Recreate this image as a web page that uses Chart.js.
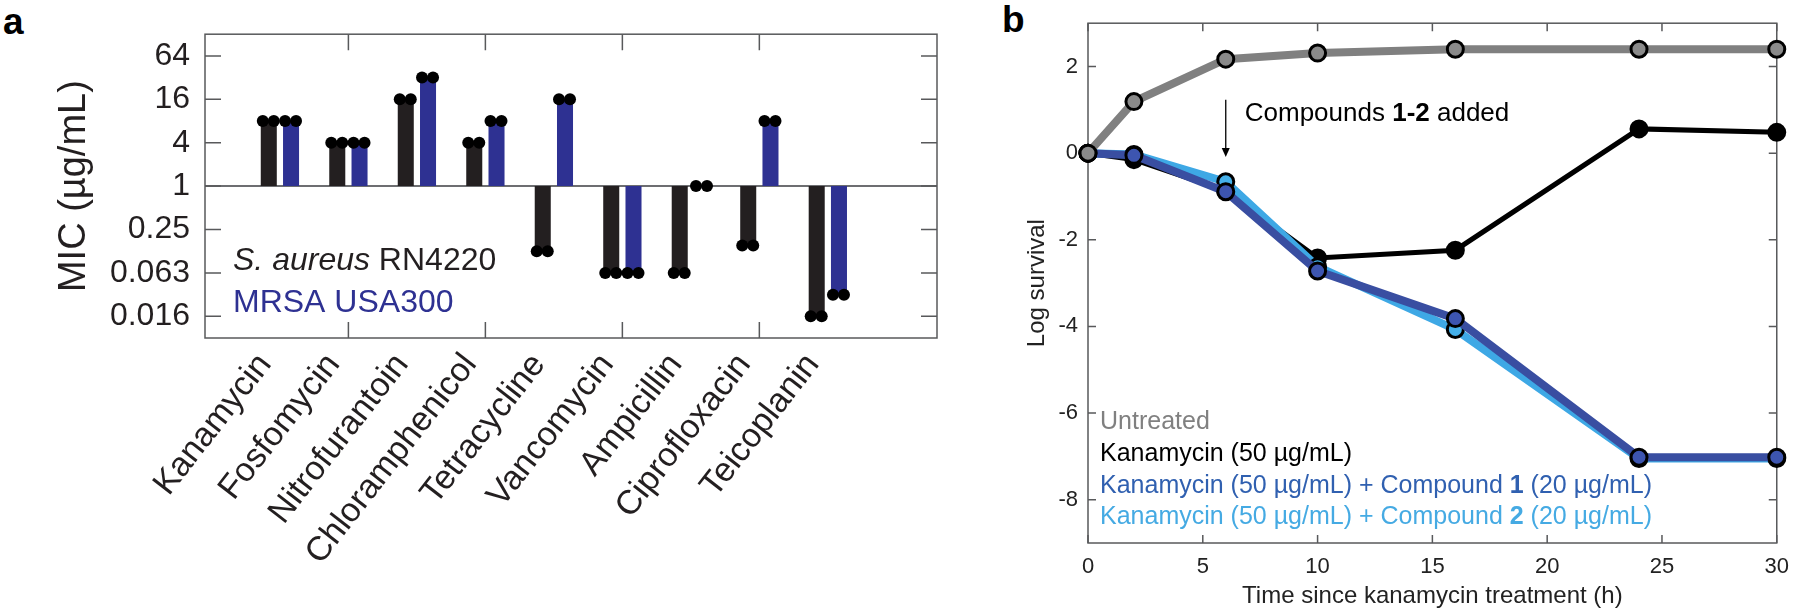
<!DOCTYPE html>
<html lang="en">
<head>
<meta charset="UTF-8">
<title>MIC and time-kill</title>
<script src="https://cdn.jsdelivr.net/npm/chart.js"></script>
<style>
  body {
    margin: 0;
    background: #fff;
    width: 1800px;
    height: 615px;
    position: relative;
    overflow: hidden;
    font-family: 'Liberation Sans', Arial, sans-serif;
  }
  canvas { position: absolute; top: 0; }
  #micChart { left: 0; }
  #killChart { left: 960px; }
  .letter {
    position: absolute;
    font-weight: bold;
    font-size: 37px;
    line-height: 37px;
    color: #000;
  }
</style>
</head>
<body>
  <div class="letter" style="left:3px; top:3px;">a</div>
  <div class="letter" style="left:1002px; top:1px;">b</div>
  <canvas id="micChart" width="960" height="615"></canvas>
  <canvas id="killChart" width="840" height="615"></canvas>

<script>
  // panel a: MIC per antibiotic (µg/mL)
  const drugs = ['Kanamycin', 'Fosfomycin', 'Nitrofurantoin', 'Chloramphenicol', 'Tetracycline',
                 'Vancomycin', 'Ampicillin', 'Ciprofloxacin', 'Teicoplanin'];
  const micRN4220 = [8, 4, 16, 4, 0.125, 0.0625, 0.0625, 0.15, 0.0156];
  const micUSA300 = [8, 4, 32, 8, 16, 0.0625, 1, 8, 0.031];
  const micTicks = [1 / 64, 1 / 16, 1 / 4, 1, 4, 16, 64];
  const micTickLabels = ['0.016', '0.063', '0.25', '1', '4', '16', '64'];
  const drugTickMarks = [2, 4, 6, 8];

  // panel b: log survival over time
  const hours = [0, 2, 6, 10, 16, 24, 30];
  const untreated = [0, 1.19, 2.17, 2.31, 2.40, 2.40, 2.40];
  const kanOnly = [0, -0.15, -0.87, -2.42, -2.24, 0.56, 0.48];
  const kanCpd1 = [0, -0.05, -0.89, -2.72, -3.82, -7.02, -7.02];
  const kanCpd2 = [0, -0.03, -0.66, -2.62, -4.07, -7.05, -7.05];
  const timeTicks = [0, 5, 10, 15, 20, 25, 30];
  const survivalTicks = [-8, -6, -4, -2, 0, 2];
  const compoundsAddedAt = 6;

  const FONT = "'Liberation Sans', Arial, sans-serif";

  // box round the plot with inward tick marks, like MATLAB
  const frame = {
    id: 'frame',
    beforeDatasetsDraw(chart, args, opts) {
      const { ctx, chartArea: a, scales: { x, y } } = chart;
      ctx.save();
      if (opts.refLine !== undefined) {
        const py = y.getPixelForValue(opts.refLine);
        ctx.strokeStyle = '#6d6e71';
        ctx.lineWidth = 2;
        ctx.beginPath();
        ctx.moveTo(a.left, py);
        ctx.lineTo(a.right, py);
        ctx.stroke();
      }
      ctx.strokeStyle = opts.color;
      ctx.lineWidth = 1.5;
      ctx.strokeRect(a.left, a.top, a.right - a.left, a.bottom - a.top);
      ctx.beginPath();
      opts.xMarks.forEach(v => {
        const px = x.getPixelForValue(v);
        ctx.moveTo(px, a.bottom); ctx.lineTo(px, a.bottom - opts.len);
        ctx.moveTo(px, a.top); ctx.lineTo(px, a.top + opts.len);
      });
      opts.yMarks.forEach(v => {
        const py = y.getPixelForValue(v);
        ctx.moveTo(a.left, py); ctx.lineTo(a.left + opts.len, py);
        ctx.moveTo(a.right, py); ctx.lineTo(a.right - opts.len, py);
      });
      ctx.stroke();
      ctx.restore();
    }
  };

  // two replicate dots on top of every bar
  const replicateDots = {
    id: 'replicateDots',
    afterDatasetsDraw(chart) {
      const ctx = chart.ctx;
      ctx.save();
      ctx.fillStyle = '#000';
      chart.data.datasets.forEach((ds, i) => {
        chart.getDatasetMeta(i).data.forEach(bar => {
          [-1, 1].forEach(s => {
            ctx.beginPath();
            ctx.arc(bar.x - 0.5 + s * 5.5, bar.y, 6, 0, Math.PI * 2);
            ctx.fill();
          });
        });
      });
      ctx.restore();
    }
  };

  const micLegend = {
    id: 'micLegend',
    afterDraw(chart) {
      const { ctx, chartArea: a } = chart;
      ctx.save();
      ctx.textBaseline = 'alphabetic';
      ctx.textAlign = 'left';
      let x = a.left + 28;
      ctx.fillStyle = '#231f20';
      ctx.font = 'italic 32px ' + FONT;
      ctx.fillText('S. aureus', x, 270);
      x += ctx.measureText('S. aureus').width;
      ctx.font = '32px ' + FONT;
      ctx.fillText(' RN4220', x, 270);
      ctx.fillStyle = '#2e3192';
      ctx.fillText('MRSA USA300', a.left + 28, 312);
      ctx.restore();
    }
  };

  new Chart(document.getElementById('micChart'), {
    type: 'bar',
    data: {
      datasets: [
        {
          label: 'S. aureus RN4220',
          data: drugs.map((d, i) => ({ x: i + 1, y: micRN4220[i] })),
          backgroundColor: '#231f20',
          base: 1
        },
        {
          label: 'MRSA USA300',
          data: drugs.map((d, i) => ({ x: i + 1, y: micUSA300[i] })),
          backgroundColor: '#2e3192',
          base: 1
        }
      ]
    },
    options: {
      responsive: false,
      animation: false,
      layout: { padding: { top: 17, right: 23, left: 0, bottom: 0 } },
      datasets: { bar: { categoryPercentage: 0.65, barPercentage: 0.72 } },
      scales: {
        x: {
          type: 'linear',
          min: 0.5,
          max: 10,
          bounds: 'data',
          grid: { display: false, drawTicks: false },
          border: { display: false },
          afterBuildTicks: s => { s.ticks = drugs.map((d, i) => ({ value: i + 1 })); },
          afterFit: s => { s.height = 277; },
          ticks: {
            autoSkip: false,
            minRotation: 52,
            maxRotation: 52,
            labelOffset: -15,
            padding: 8,
            color: '#231f20',
            font: { family: FONT, size: 34 },
            callback: v => drugs[v - 1]
          }
        },
        y: {
          type: 'logarithmic',
          min: 1 / 128,
          max: 128,
          bounds: 'data',
          grid: { display: false, drawTicks: false },
          border: { display: false },
          afterBuildTicks: s => { s.ticks = micTicks.map(v => ({ value: v })); },
          afterFit: s => { s.width = 205; },
          ticks: {
            padding: 15,
            color: '#231f20',
            font: { family: FONT, size: 32 },
            callback: (v, i) => micTickLabels[i]
          },
          title: {
            display: true,
            text: 'MIC (µg/mL)',
            color: '#231f20',
            font: { family: FONT, size: 38 },
            padding: { top: 52, bottom: 0 }
          }
        }
      },
      plugins: {
        legend: { display: false },
        tooltip: { enabled: false },
        frame: { color: '#58595b', len: 16, xMarks: drugTickMarks, yMarks: micTicks, refLine: 1 }
      }
    },
    plugins: [frame, replicateDots, micLegend]
  });

  // text inside panel b: legend and the "compounds added" arrow
  const killNotes = {
    id: 'killNotes',
    afterDraw(chart) {
      const { ctx, scales: { x, y } } = chart;
      ctx.save();
      ctx.textAlign = 'left';
      ctx.textBaseline = 'alphabetic';

      // arrow at the time compounds were added
      const ax = x.getPixelForValue(compoundsAddedAt);
      const yTop = y.getPixelForValue(1.23);
      const yTip = y.getPixelForValue(-0.09);
      ctx.strokeStyle = '#000';
      ctx.fillStyle = '#000';
      ctx.lineWidth = 1.3;
      ctx.beginPath();
      ctx.moveTo(ax, yTop);
      ctx.lineTo(ax, yTip - 8);
      ctx.stroke();
      ctx.beginPath();
      ctx.moveTo(ax - 4, yTip - 9);
      ctx.lineTo(ax + 4, yTip - 9);
      ctx.lineTo(ax, yTip);
      ctx.closePath();
      ctx.fill();

      const runs = (parts, px, py, size) => {
        parts.forEach(([txt, bold, color]) => {
          ctx.font = (bold ? 'bold ' : '') + size + 'px ' + FONT;
          ctx.fillStyle = color;
          ctx.fillText(txt, px, py);
          px += ctx.measureText(txt).width;
        });
      };
      runs([['Compounds ', false, '#000'], ['1-2', true, '#000'], [' added', false, '#000']],
           ax + 19, 121, 26);

      const lx = x.getPixelForValue(0) + 12;
      runs([['Untreated', false, '#808080']], lx, 429, 25);
      runs([['Kanamycin (50 µg/mL)', false, '#000']], lx, 461, 25);
      runs([['Kanamycin (50 µg/mL) + Compound ', false, '#3060b0'], ['1', true, '#3060b0'],
            [' (20 µg/mL)', false, '#3060b0']], lx, 493, 25);
      runs([['Kanamycin (50 µg/mL) + Compound ', false, '#45aae3'], ['2', true, '#45aae3'],
            [' (20 µg/mL)', false, '#45aae3']], lx, 524, 25);
      ctx.restore();
    }
  };

  const series = (values, line, fill, width) => ({
    data: hours.map((h, i) => ({ x: h, y: values[i] })),
    borderColor: line,
    borderWidth: width,
    pointRadius: 8,
    pointBorderWidth: 3,
    pointBorderColor: '#000',
    pointBackgroundColor: fill
  });

  new Chart(document.getElementById('killChart'), {
    type: 'line',
    data: {
      datasets: [
        Object.assign(series(untreated, '#808080', '#8a8a8a', 8), { label: 'Untreated' }),
        Object.assign(series(kanCpd1, '#394ea1', '#3d55b0', 8), { label: 'Kanamycin + Compound 1' }),
        Object.assign(series(kanCpd2, '#3ea8e5', '#45b0ea', 8), { label: 'Kanamycin + Compound 2' }),
        Object.assign(series(kanOnly, '#000', '#000', 5), { label: 'Kanamycin' })
      ]
    },
    options: {
      responsive: false,
      animation: false,
      layout: { padding: { top: 9, right: 13, left: 0, bottom: 0 } },
      elements: { line: { tension: 0 } },
      datasets: { line: { clip: false } },
      scales: {
        x: {
          type: 'linear',
          min: 0,
          max: 30,
          bounds: 'data',
          grid: { display: false, drawTicks: false },
          border: { display: false },
          afterBuildTicks: s => { s.ticks = timeTicks.map(v => ({ value: v })); },
          afterFit: s => { s.height = 72; },
          ticks: { padding: 11, color: '#222', font: { family: FONT, size: 22 } },
          title: {
            display: true,
            text: 'Time since kanamycin treatment (h)',
            color: '#222',
            font: { family: FONT, size: 24 },
            padding: { top: 0, bottom: 4 }
          }
        },
        y: {
          type: 'linear',
          min: -9,
          max: 3,
          bounds: 'data',
          grid: { display: false, drawTicks: false },
          border: { display: false },
          afterBuildTicks: s => { s.ticks = survivalTicks.map(v => ({ value: v })); },
          afterFit: s => { s.width = 128; },
          ticks: { padding: 10, color: '#222', font: { family: FONT, size: 22 } },
          title: {
            display: true,
            text: 'Log survival',
            color: '#222',
            font: { family: FONT, size: 24 },
            padding: { top: 63, bottom: 0 }
          }
        }
      },
      plugins: {
        legend: { display: false },
        tooltip: { enabled: false },
        frame: { color: '#58595b', len: 8, xMarks: timeTicks, yMarks: survivalTicks }
      }
    },
    plugins: [frame, killNotes]
  });
</script>
</body>
</html>
